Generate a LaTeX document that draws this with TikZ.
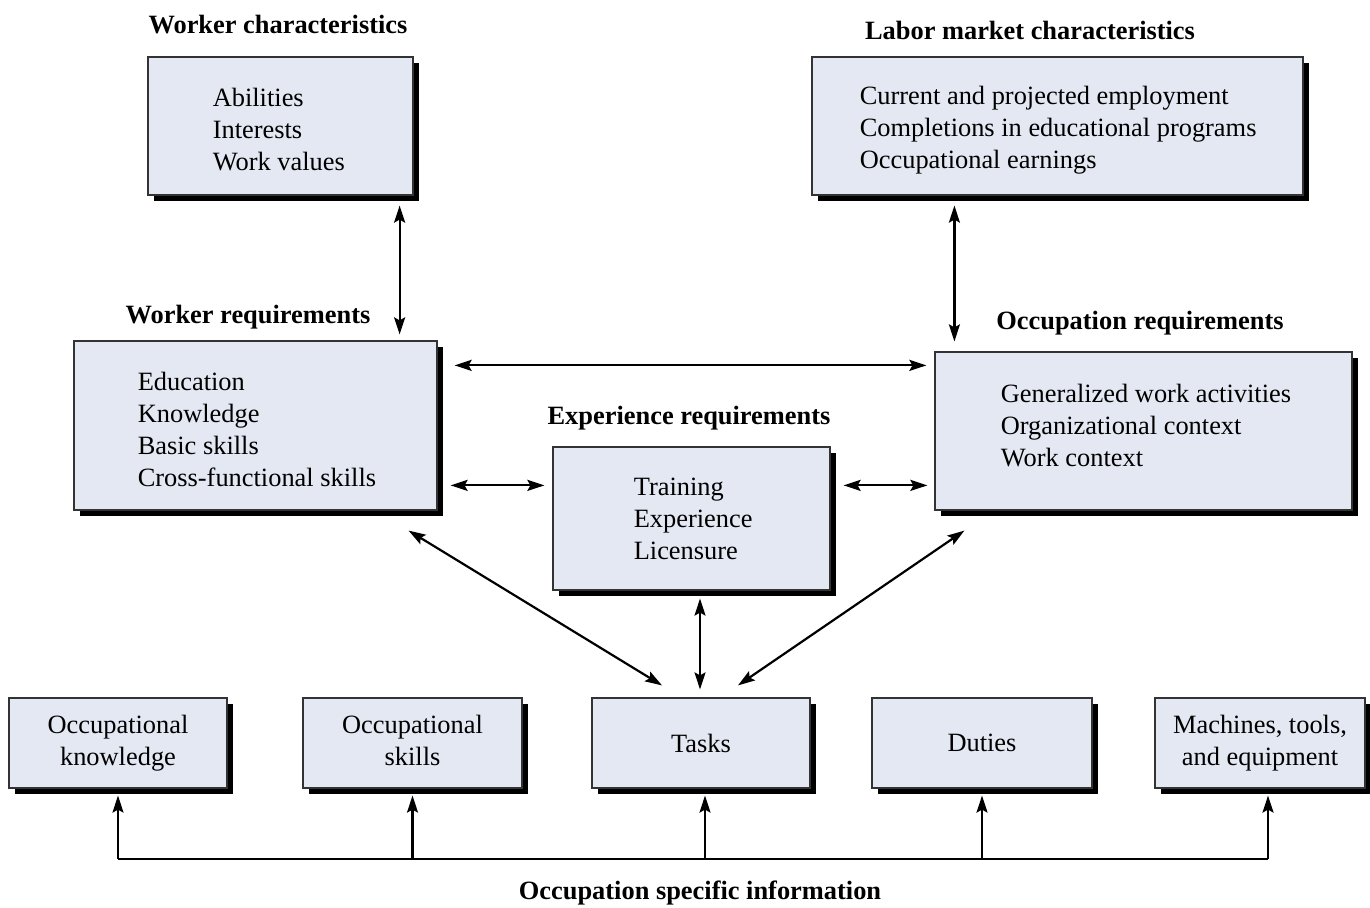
\documentclass[tikz,border=0pt]{standalone}
\usepackage{fontspec}
\setmainfont{Liberation Serif}
\usetikzlibrary{arrows.meta,calc,shadows}
\definecolor{boxfill}{RGB}{228,232,242}
\newcommand\boxfont{\fontsize{13.2}{16}\selectfont}

\begin{document}
\begin{tikzpicture}[x=0.5pt,y=-0.5pt,
  infobox/.style={draw=black!80, line width=0.6pt, fill=boxfill, inner sep=0pt,
    drop shadow={shadow xshift=3.2pt, shadow yshift=-3.2pt, fill=black, opacity=1},
    font=\boxfont, align=center},
  listtext/.style={anchor=west, inner sep=0pt, align=left, font=\boxfont},
  heading/.style={inner sep=0pt, font=\boxfont\bfseries},
  twoway/.style={{Stealth[length=8.5pt,width=5.5pt,inset=1.5pt]}-{Stealth[length=8.5pt,width=5.5pt,inset=1.5pt]}, line width=1.1pt},
  oneway/.style={-{Stealth[length=8.5pt,width=5.5pt,inset=1.5pt]}, line width=1.1pt}]
\useasboundingbox (0,0) rectangle (1370,908);

\node[infobox, minimum width=132.5pt, minimum height=69pt] (wc) at (280.5,126) {};
\node[listtext] (wctext) at ($(wc.west)+(65,4)$) {Abilities\\Interests\\Work values};
\node[heading] (wctitle) at (278,25) {Worker characteristics};

\node[infobox, minimum width=245.5pt, minimum height=69pt] (lm) at (1057.5,126) {};
\node[listtext] (lmtext) at ($(lm.west)+(48,4)$) {Current and projected employment\\Completions in educational programs\\Occupational earnings};
\node[heading] (lmtitle) at (1030,30) {Labor market characteristics};

\node[infobox, minimum width=181.5pt, minimum height=84.5pt] (wr) at (255.5,425.5) {};
\node[listtext] (wrtext) at ($(wr.west)+(64,4)$) {Education\\Knowledge\\Basic skills\\Cross-functional skills};
\node[heading] (wrtitle) at (248,317) {Worker requirements};

\node[infobox, minimum width=208.5pt, minimum height=79pt] (or) at (1143.5,431) {};
\node[listtext] (ortext) at ($(or.west)+(66,-5)$) {Generalized work activities\\Organizational context\\Work context};
\node[heading] (ortitle) at (1140,323) {Occupation requirements};

\node[infobox, minimum width=138.5pt, minimum height=71.5pt] (er) at (691.5,518.5) {};
\node[listtext] (ertext) at ($(er.west)+(81,0)$) {Training\\Experience\\Licensure};
\node[heading] (ertitle) at (689,418) {Experience requirements};

\node[infobox, minimum width=109pt, minimum height=45pt] (okn) at (118,743) {\strut Occupational\\\strut knowledge};
\node[infobox, minimum width=109.5pt, minimum height=45pt] (osk) at (412.5,743) {\strut Occupational\\\strut skills};
\node[infobox, minimum width=109pt, minimum height=45pt] (tasks) at (701,743) {Tasks};
\node[infobox, minimum width=110pt, minimum height=45pt] (duty) at (982,743) {Duties};
\node[infobox, minimum width=105pt, minimum height=45pt] (mach) at (1260,743) {\strut Machines, tools,\\\strut and equipment};
\node[heading] (ostitle) at (700,893) {Occupation specific information};

\draw[twoway] ($(wc.south east)+(-14,10)$) -- ($(wc.south east |- wr.north)+(-14,-6)$);
\draw[twoway] ($(lm.south west)+(143,10)$) -- ($(lm.south west |- or.north)+(143,-10)$);
\draw[twoway] ($(wr.north east)+(17,25)$) -- ($(wr.north east -| or.west)+(-8,25)$);
\draw[twoway] ($(er.north west -| wr.east)+(13,39)$) -- ($(er.north west)+(-8,39)$);
\draw[twoway] ($(er.north east)+(13,39)$) -- ($(er.north east -| or.west)+(-7,39)$);
\draw[twoway] ($(wr.south east)+(-29,20)$) -- ($(tasks.north)+(-39,-12)$);
\draw[twoway] ($(tasks.north |- er.south)+(-1,8)$) -- ($(tasks.north)+(-1,-8)$);
\draw[twoway] ($(or.south west)+(30,20)$) -- ($(tasks.north)+(37,-12)$);

\draw[line width=1.1pt] ($(okn.south)+(0,70)$) -- ($(mach.south)+(8,70)$);
\foreach \n/\dx in {okn/0, osk/0, tasks/4, duty/0, mach/8}
  \draw[oneway] ($(\n.south)+(\dx,70)$) -- ($(\n.south)+(\dx,7)$);
\end{tikzpicture}
\end{document}
